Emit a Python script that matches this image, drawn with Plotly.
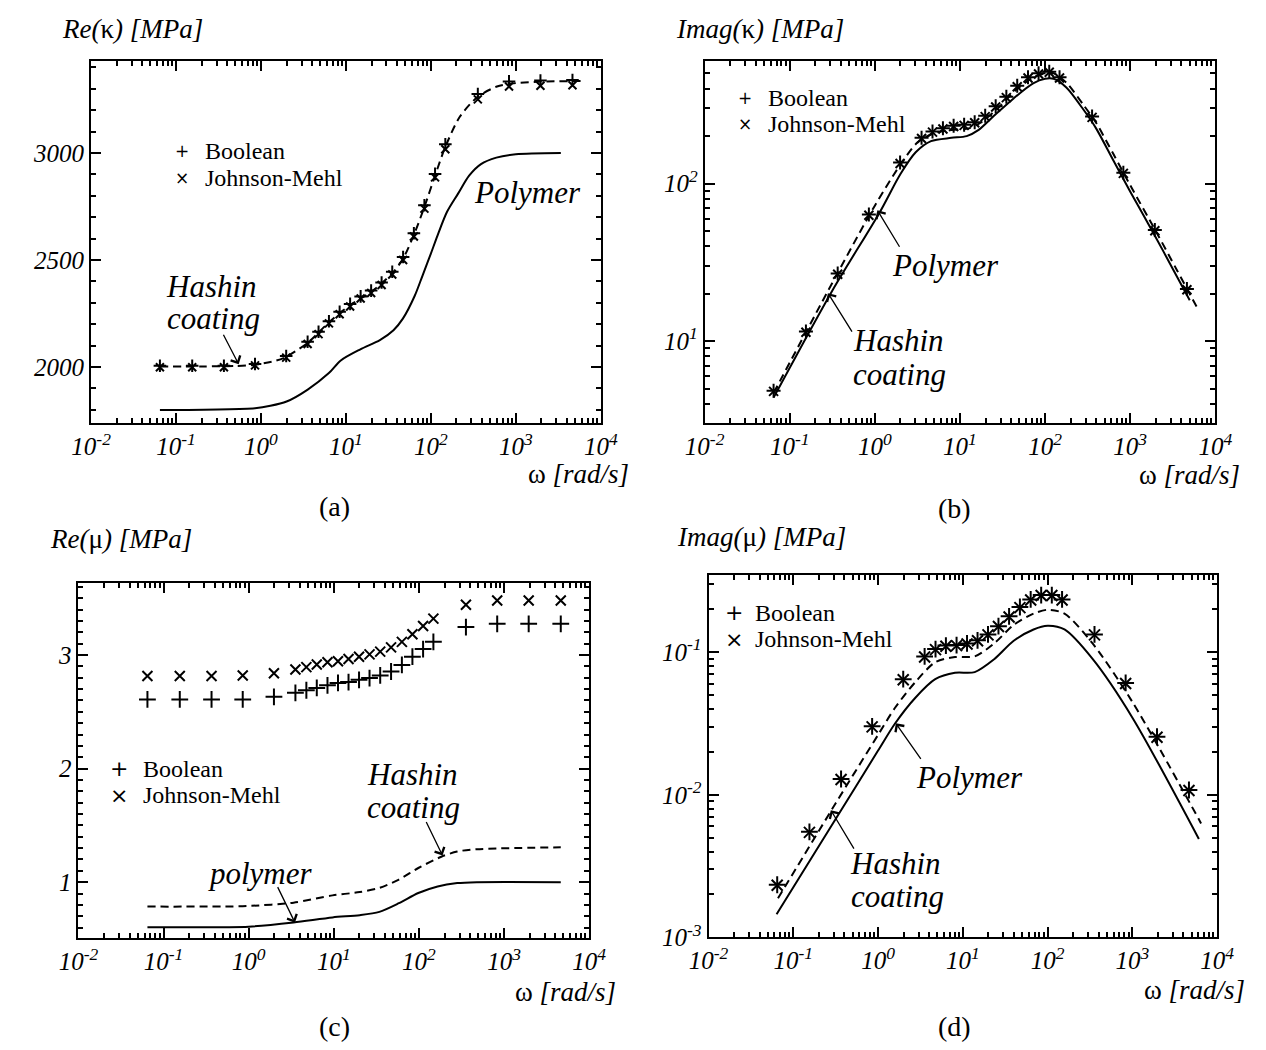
import plotly.graph_objects as go

W, H = 1266, 1050

# ---------------- data ----------------
omega = [0.0646, 0.155, 0.366, 0.851, 1.98, 3.54, 4.76, 6.31, 8.43, 11.2, 14.9,
         19.8, 26.3, 35.1, 47.1, 63.1, 83.9, 112, 148, 357, 832, 1950, 4645]

# (a) Re(kappa)
a_bool = [2006, 2006, 2006, 2014, 2052, 2118, 2165, 2214, 2258, 2295, 2330,
          2357, 2395, 2445, 2514, 2625, 2756, 2902, 3040, 3275, 3334, 3338, 3340]
a_jm = [1999, 1999, 1999, 2008, 2044, 2108, 2154, 2204, 2247, 2283, 2320,
        2346, 2383, 2432, 2500, 2610, 2740, 2886, 3017, 3250, 3310, 3314, 3316]
a_hashin_x = [0.0646, 0.2, 0.5, 0.851, 1.5, 1.98, 3.54, 6.31, 11.2, 19.8, 35.1,
              47.1, 63.1, 83.9, 112, 148, 220, 357, 600, 1000, 2000, 6000]
a_hashin_y = [2003, 2003, 2005, 2011, 2030, 2048, 2113, 2209, 2289, 2351, 2438,
              2507, 2617, 2748, 2894, 3028, 3170, 3262, 3310, 3326, 3333, 3336]
a_poly_x = [0.0646, 0.851, 1.29, 2.0, 3.55, 6.3, 8.7, 14.8, 25.1, 36.3, 46.8,
            64.6, 79.4, 100, 120, 155, 209, 282, 389, 589, 1000, 3388]
a_poly_y = [1799, 1808, 1819, 1839, 1895, 1972, 2031, 2083, 2126, 2172, 2226,
            2333, 2425, 2530, 2615, 2725, 2810, 2894, 2948, 2978, 2994, 3000]

# (b) Imag(kappa)
b_bool = [4.85, 11.5, 26.9, 63.7, 136, 195, 214, 224, 233, 236, 245,
          269, 309, 355, 417, 473, 501, 513, 473, 266, 117, 50.8, 21.4]
b_jm = [4.80, 11.4, 26.6, 63.0, 134, 193, 212, 222, 230, 234, 243,
        266, 306, 351, 412, 468, 496, 508, 468, 263, 116, 50.2, 21.2]
b_hashin_x = [0.0646, 0.316, 1.0, 2.0, 3.16, 5.01, 7.94, 12.6, 17.8, 28.2, 44.7,
              70.8, 100, 126, 178, 282, 398, 631, 1000, 1995, 3548, 6026]
b_hashin_y = [4.68, 23.4, 72.4, 132, 182, 209, 219, 224, 245, 302, 389,
              468, 501, 501, 437, 316, 243, 155, 97.7, 50.1, 28.2, 16.6]
b_poly_x = [0.0646, 0.316, 1.148, 2.0, 3.02, 4.57, 7.94, 12.0, 16.6, 25.1, 42.7,
            72.4, 100, 126, 178, 282, 398, 631, 1000, 1995, 3162, 5012]
b_poly_y = [4.38, 20.9, 66.1, 115, 158, 186, 195, 200, 219, 269, 347,
            432, 462, 462, 407, 295, 224, 141, 89.1, 45.7, 28.8, 18.2]

# (c) Re(mu)
c_bool = [2.609, 2.609, 2.609, 2.609, 2.632, 2.667, 2.69, 2.71, 2.733, 2.754, 2.762,
          2.782, 2.797, 2.82, 2.855, 2.913, 2.985, 3.052, 3.116, 3.246, 3.275, 3.275, 3.275]
c_jm = [2.815, 2.815, 2.815, 2.82, 2.84, 2.872, 2.893, 2.916, 2.936, 2.945, 2.965,
        2.985, 3.006, 3.03, 3.067, 3.116, 3.183, 3.255, 3.32, 3.443, 3.48, 3.48, 3.48]
c_hashin_x = [0.0646, 0.5, 0.95, 3.37, 9.66, 20.2, 34.3, 58.2, 98.4, 186, 282, 479, 4645]
c_hashin_y = [0.785, 0.786, 0.79, 0.82, 0.884, 0.913, 0.95, 1.023, 1.125, 1.226, 1.27, 1.29, 1.307]
c_poly_x = [0.0646, 0.5, 1.0, 3.37, 9.66, 20.2, 34.3, 58.2, 98.4, 166, 282, 479, 4645]
c_poly_y = [0.603, 0.604, 0.608, 0.646, 0.69, 0.71, 0.739, 0.815, 0.905, 0.963, 0.992, 1.0, 1.0]

# (d) Imag(mu)
d_bool = [0.00234, 0.0055, 0.0129, 0.0302, 0.0646, 0.0933, 0.105, 0.111, 0.112, 0.115, 0.121,
          0.133, 0.152, 0.178, 0.207, 0.234, 0.251, 0.251, 0.234, 0.133, 0.0608, 0.0255, 0.0108]
d_jm = [0.00232, 0.00545, 0.0128, 0.0299, 0.0640, 0.0925, 0.104, 0.110, 0.111, 0.114, 0.120,
        0.132, 0.151, 0.176, 0.205, 0.232, 0.249, 0.249, 0.232, 0.132, 0.0603, 0.0253, 0.0107]
d_hashin_x = [0.066, 0.316, 1.0, 1.585, 2.754, 4.72, 8.07, 13.8, 23.4, 39.8, 68.2,
              100, 158, 339, 1000, 6457]
d_hashin_y = [0.00188, 0.00871, 0.0263, 0.0407, 0.0617, 0.0849, 0.0923, 0.0933, 0.115, 0.155, 0.186,
              0.198, 0.186, 0.115, 0.0447, 0.0063]
d_poly_x = [0.0635, 0.316, 1.0, 1.585, 2.754, 4.72, 8.07, 13.8, 23.4, 39.8, 68.2,
            100, 158, 339, 1000, 6081]
d_poly_y = [0.001455, 0.00676, 0.0204, 0.0316, 0.0479, 0.0646, 0.0716, 0.0724, 0.0891, 0.120, 0.144,
            0.153, 0.144, 0.0895, 0.0347, 0.0049]

x_tick_vals = [0.01, 0.1, 1, 10, 100, 1000, 10000]
x_tick_text = ["10<sup>-2</sup>", "10<sup>-1</sup>", "10<sup>0</sup>", "10<sup>1</sup>",
               "10<sup>2</sup>", "10<sup>3</sup>", "10<sup>4</sup>"]

# ---------------- figure ----------------
FONT = "Liberation Serif"
fig = go.Figure()

panels = [
    ("x", "y", omega, a_bool, a_jm, a_hashin_x, a_hashin_y, a_poly_x, a_poly_y, 9, 8),
    ("x2", "y2", omega, b_bool, b_jm, b_hashin_x, b_hashin_y, b_poly_x, b_poly_y, 10, 9),
    ("x3", "y3", omega, c_bool, c_jm, c_hashin_x, c_hashin_y, c_poly_x, c_poly_y, 12, 10),
    ("x4", "y4", omega, d_bool, d_jm, d_hashin_x, d_hashin_y, d_poly_x, d_poly_y, 12, 11),
]
for xa, ya, om, bo, jm, hx, hy, plx, ply, sp, sx in panels:
    fig.add_trace(go.Scatter(x=plx, y=ply, mode="lines", xaxis=xa, yaxis=ya,
                             line=dict(color="black", width=2, shape="spline", smoothing=0.8),
                             name="Polymer", showlegend=False))
    fig.add_trace(go.Scatter(x=hx, y=hy, mode="lines", xaxis=xa, yaxis=ya,
                             line=dict(color="black", width=2, dash="8px,5px", shape="spline", smoothing=0.8),
                             name="Hashin coating", showlegend=False))
    fig.add_trace(go.Scatter(x=om, y=bo, mode="markers", xaxis=xa, yaxis=ya, name="Boolean",
                             marker=dict(symbol="cross-thin", size=sp, color="black",
                                         line=dict(color="black", width=2)), showlegend=False))
    fig.add_trace(go.Scatter(x=om, y=jm, mode="markers", xaxis=xa, yaxis=ya, name="Johnson-Mehl",
                             marker=dict(symbol="x-thin", size=sx, color="black",
                                         line=dict(color="black", width=2)), showlegend=False))


def dom_x(x0, x1):
    return [x0 / W, x1 / W]


def dom_y(y0, y1):
    return [1 - y1 / H, 1 - y0 / H]


tickfont = dict(family=FONT, size=25, color="black", style="italic")
x_minor = [m * 10.0 ** e for e in range(-2, 4) for m in range(2, 10)]


def xaxis(domain, anchor):
    return dict(type="log", range=[-2, 4], domain=domain, anchor=anchor,
                showline=True, linecolor="black", linewidth=2, mirror="ticks",
                ticks="inside", ticklen=10, tickwidth=2, tickcolor="black",
                tickmode="array", tickvals=x_tick_vals, ticktext=x_tick_text, tickfont=tickfont,
                minor=dict(tickmode="array", tickvals=x_minor, ticks="inside", ticklen=5,
                           tickwidth=1.5, tickcolor="black", showgrid=False),
                showgrid=False, zeroline=False)


def yaxis_base(domain, anchor):
    return dict(domain=domain, anchor=anchor, showline=True, linecolor="black", linewidth=2,
                mirror="ticks", ticks="inside", ticklen=10, tickwidth=2, tickcolor="black",
                tickfont=tickfont, showgrid=False, zeroline=False)


ya = yaxis_base(dom_y(54, 421), "x")
ya.update(range=[1737, 3428], tickmode="linear", tick0=0, dtick=500, tickformat="d",
          minor=dict(dtick=100, ticks="inside", ticklen=5, tickwidth=1.5, tickcolor="black", showgrid=False))

yb = yaxis_base(dom_y(54, 421), "x2")
yb.update(type="log", range=[0.478, 2.776], tickmode="array", tickvals=[10, 100],
          ticktext=["10<sup>1</sup>", "10<sup>2</sup>"],
          minor=dict(tickmode="array", tickvals=[m * 10.0 ** e for e in range(0, 3) for m in range(2, 10)],
                     ticks="inside", ticklen=5, tickwidth=1.5, tickcolor="black", showgrid=False))

yc = yaxis_base(dom_y(583, 943), "x3")
yc.update(range=[0.505, 3.632], tickmode="linear", tick0=0, dtick=1,
          minor=dict(dtick=0.1, ticks="inside", ticklen=5, tickwidth=1.5, tickcolor="black", showgrid=False))

yd = yaxis_base(dom_y(575, 942), "x4")
yd.update(type="log", range=[-3, -0.462], tickmode="array", tickvals=[0.001, 0.01, 0.1],
          ticktext=["10<sup>-3</sup>", "10<sup>-2</sup>", "10<sup>-1</sup>"],
          minor=dict(tickmode="array", tickvals=[m * 10.0 ** e for e in range(-3, 0) for m in range(2, 10)],
                     ticks="inside", ticklen=5, tickwidth=1.5, tickcolor="black", showgrid=False))

fig.update_layout(
    width=W, height=H, margin=dict(l=0, r=0, t=0, b=0),
    paper_bgcolor="white", plot_bgcolor="white", showlegend=False,
    font=dict(family=FONT, color="black"),
    xaxis=xaxis(dom_x(65, 590), "y"),
    xaxis2=xaxis(dom_x(697, 1223), "y2"),
    xaxis3=xaxis(dom_x(52, 578), "y3"),
    xaxis4=xaxis(dom_x(701, 1225), "y4"),
    yaxis=ya, yaxis2=yb, yaxis3=yc, yaxis4=yd,
)

# ---------------- annotations (layout only) ----------------
ann = []


def txt(x, y, text, size, xanchor="center", italic=False, family=FONT):
    ann.append(dict(x=x / W, y=1 - y / H, xref="paper", yref="paper", text=text,
                    showarrow=False, xanchor=xanchor, yanchor="middle", borderpad=0,
                    font=dict(family=family, size=size, color="black",
                              style="italic" if italic else "normal")))


def arrow(tip, tail):
    ann.append(dict(x=tip[0] / W, y=1 - tip[1] / H, xref="paper", yref="paper", text="",
                    showarrow=True, axref="pixel", ayref="pixel",
                    ax=tail[0] - tip[0], ay=tail[1] - tip[1],
                    arrowhead=4, arrowsize=1.6, arrowwidth=1.3, arrowcolor="black"))


# axis titles
txt(34, 21, "<i>Re(</i>κ<i>) [MPa]</i>", 27, "left")
txt(666, 21, "<i>Imag(</i>κ<i>) [MPa]</i>", 27, "left")
txt(22, 538, "<i>Re(</i>μ<i>) [MPa]</i>", 27, "left")
txt(668, 536, "<i>Imag(</i>μ<i>) [MPa]</i>", 27, "left")
for xr, yy in [(620, 472), (1250, 473), (607, 997), (1255, 995)]:
    txt(xr, yy, "ω <i>[rad/s]</i>", 27, "right")

# sub-captions
txt(316, 505, "(a)", 28)
txt(954, 507, "(b)", 28)
txt(316, 1032, "(c)", 28)
txt(954, 1032, "(d)", 28)

# legends (two lines, tight spacing like the reference)
for (mx, tx, y1, y2, ms) in [(159, 181, 145, 172, 17), (739, 761, 91, 118, 17),
                             (94, 117, 771, 798, 22), (727, 748, 613, 640, 22)]:
    txt(mx, y1, "+", ms, family="DejaVu Sans")
    txt(mx, y2, "×", ms, family="DejaVu Sans")
    txt(tx, y1, "Boolean", 24, "left")
    txt(tx, y2, "Johnson-Mehl", 24, "left")

# labels with arrows
# (a)
txt(189, 282, "Hashin", 31, italic=True)
txt(191, 315, "coating", 31, italic=True)
arrow((217, 361), (201, 330))
txt(515, 187, "Polymer", 31, italic=True)
# (b)
txt(945, 261, "Polymer", 31, italic=True)
arrow((875, 205), (898, 243))
txt(897, 337, "Hashin", 31, italic=True)
txt(898, 371, "coating", 31, italic=True)
arrow((824, 289), (849, 329))
# (c)
txt(396, 777, "Hashin", 31, italic=True)
txt(397, 810, "coating", 31, italic=True)
arrow((427, 859), (410, 824))
txt(239, 877, "polymer", 31, italic=True)
arrow((275, 927), (257, 890))
# (d)
txt(970, 780, "Polymer", 31, italic=True)
arrow((894, 725), (920, 762))
txt(894, 867, "Hashin", 31, italic=True)
txt(896, 901, "coating", 31, italic=True)
arrow((827, 813), (851, 853))

fig.update_layout(annotations=ann)
fig.write_html("out.html")
